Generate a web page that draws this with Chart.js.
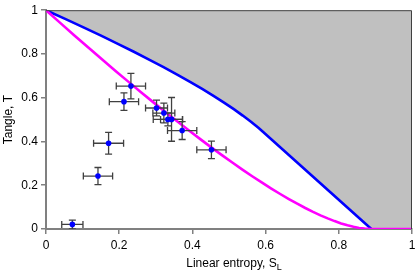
<!DOCTYPE html>
<html>
<head>
<meta charset="utf-8">
<script src="https://cdn.jsdelivr.net/npm/chart.js@4/dist/chart.umd.min.js"></script>
<style>
html,body{margin:0;padding:0;background:#fff;}
#wrap{width:416px;height:272px;position:relative;}
</style>
</head>
<body>
<div id="wrap"><canvas id="c" width="416" height="272"></canvas></div>
<script>
// Measured data points (linear entropy, tangle) with error bars
const sL        = [0.072, 0.142, 0.171, 0.213, 0.232, 0.302, 0.322, 0.333, 0.343, 0.372, 0.452];
const tangle    = [0.021, 0.242, 0.392, 0.582, 0.653, 0.553, 0.530, 0.501, 0.501, 0.450, 0.362];
const sLErr     = [0.029, 0.040, 0.041, 0.040, 0.040, 0.030, 0.030, 0.040, 0.030, 0.040, 0.040];
const tangleErr = [0.020, 0.039, 0.050, 0.040, 0.058, 0.036, 0.045, 0.030, 0.100, 0.041, 0.040];

// Upper boundary curve (blue)
const memsS = [0, 0.0523, 0.1024, 0.1504, 0.1963, 0.24, 0.2816, 0.3211, 0.3584, 0.3936, 0.4267, 0.4576, 0.4864, 0.5131, 0.5376, 0.56, 0.5803, 0.5926, 0.8889];
const memsT = [1, 0.9604, 0.9216, 0.8836, 0.8464, 0.81, 0.7744, 0.7396, 0.7056, 0.6724, 0.64, 0.6084, 0.5776, 0.5476, 0.5184, 0.49, 0.4624, 0.4444, 0];

// Lower curve (magenta)
const wernerS = [0, 0.0396, 0.0784, 0.1164, 0.1536, 0.19, 0.2256, 0.2604, 0.2944, 0.3276, 0.36, 0.3916, 0.4224, 0.4524, 0.4816, 0.51, 0.5376, 0.5644, 0.5904, 0.6156, 0.64, 0.6636, 0.6864, 0.7084, 0.7296, 0.75, 0.7696, 0.7884, 0.8064, 0.8236, 0.84, 0.8556, 0.8704, 0.8889, 1];
const wernerT = [1, 0.9409, 0.8836, 0.8281, 0.7744, 0.7225, 0.6724, 0.6241, 0.5776, 0.5329, 0.49, 0.4489, 0.4096, 0.3721, 0.3364, 0.3025, 0.2704, 0.2401, 0.2116, 0.1849, 0.16, 0.1369, 0.1156, 0.0961, 0.0784, 0.0625, 0.0484, 0.0361, 0.0256, 0.0169, 0.01, 0.0049, 0.0016, 0, 0];

const xTicks = [0, 0.2, 0.4, 0.6, 0.8, 1];
const yTicks = [0, 0.2, 0.4, 0.6, 0.8, 1];
const xTitle = 'Linear entropy, S';
const xTitleSub = 'L';
const yTitle = 'Tangle, T';

const pts = (xs, ys) => xs.map((x, i) => ({x: x, y: ys[i]}));
const fillPts = pts(memsS, memsT).concat([{x: 1, y: 0}]);

const FONT = '"Liberation Sans", Arial, sans-serif';

const extras = {
  id: 'extras',
  beforeDatasetDraw(chart, args) {
    if (args.index !== 0) return;
    const ctx = chart.ctx, xs = chart.scales.x, ys = chart.scales.y;
    const a = chart.chartArea;
    ctx.save();
    ctx.beginPath();
    ctx.rect(a.left, a.top, a.right - a.left, a.bottom - a.top);
    ctx.clip();
    ctx.strokeStyle = '#404040';
    ctx.lineWidth = 1.3;
    const cap = 3.5;
    sL.forEach((x, i) => {
      const y = tangle[i];
      const px = xs.getPixelForValue(x), py = ys.getPixelForValue(y);
      const x1 = xs.getPixelForValue(x - sLErr[i]), x2 = xs.getPixelForValue(x + sLErr[i]);
      const y1 = ys.getPixelForValue(y - tangleErr[i]), y2 = ys.getPixelForValue(y + tangleErr[i]);
      ctx.beginPath();
      ctx.moveTo(x1, py); ctx.lineTo(x2, py);
      ctx.moveTo(x1, py - cap); ctx.lineTo(x1, py + cap);
      ctx.moveTo(x2, py - cap); ctx.lineTo(x2, py + cap);
      ctx.moveTo(px, y1); ctx.lineTo(px, y2);
      ctx.moveTo(px - cap, y1); ctx.lineTo(px + cap, y1);
      ctx.moveTo(px - cap, y2); ctx.lineTo(px + cap, y2);
      ctx.stroke();
    });
    ctx.restore();
  },
  afterDraw(chart) {
    const ctx = chart.ctx, a = chart.chartArea;
    ctx.save();
    // top and right frame
    ctx.strokeStyle = '#404040';
    ctx.lineWidth = 1;
    ctx.beginPath();
    ctx.moveTo(a.left, a.top + 0.5);
    ctx.lineTo(a.right - 0.5, a.top + 0.5);
    ctx.lineTo(a.right - 0.5, a.bottom);
    ctx.stroke();
    // x title with subscript
    ctx.fillStyle = '#000';
    ctx.font = '12px ' + FONT;
    ctx.textBaseline = 'alphabetic';
    ctx.textAlign = 'left';
    const w1 = ctx.measureText(xTitle).width;
    ctx.font = '9px ' + FONT;
    const w2 = ctx.measureText(xTitleSub).width;
    const start = 234 - (w1 + w2) / 2;
    ctx.font = '12px ' + FONT;
    ctx.fillText(xTitle, start, 266.5);
    ctx.font = '9px ' + FONT;
    ctx.fillText(xTitleSub, start + w1, 269.5);
    // y title
    ctx.font = '12px ' + FONT;
    ctx.translate(12, (a.top + a.bottom) / 2);
    ctx.rotate(-Math.PI / 2);
    ctx.textAlign = 'center';
    ctx.fillText(yTitle, 0, 0);
    ctx.restore();
  }
};

new Chart(document.getElementById('c'), {
  type: 'line',
  data: {
    datasets: [
      {
        label: 'data',
        data: pts(sL, tangle),
        showLine: false,
        pointRadius: 2.8,
        pointBackgroundColor: '#0000ff',
        pointBorderWidth: 0,
        borderColor: '#0000ff'
      },
      {
        label: 'lower',
        data: pts(wernerS, wernerT),
        borderColor: '#ff00ff',
        borderWidth: 2.6,
        pointRadius: 0,
        fill: false,
        tension: 0
      },
      {
        label: 'upper',
        data: pts(memsS, memsT),
        borderColor: '#0000ff',
        borderWidth: 2.6,
        pointRadius: 0,
        fill: false,
        tension: 0
      },
      {
        label: 'region',
        data: fillPts,
        borderWidth: 0,
        borderColor: 'rgba(0,0,0,0)',
        backgroundColor: '#c0c0c0',
        pointRadius: 0,
        fill: 'end',
        tension: 0
      }
    ]
  },
  options: {
    responsive: false,
    animation: false,
    devicePixelRatio: 1,
    layout: {padding: {top: 9, right: 0, left: 0, bottom: 0}},
    plugins: {legend: {display: false}, tooltip: {enabled: false}, title: {display: false}},
    scales: {
      x: {
        type: 'linear', min: 0, max: 1,
        afterFit: s => { s.height = 43; s.paddingRight = 3; },
        afterBuildTicks: s => { s.ticks = xTicks.map(v => ({value: v})); },
        ticks: {autoSkip: false, maxRotation: 0, padding: 4, color: '#000', font: {family: FONT, size: 12},
          callback: v => String(v)},
        grid: {drawOnChartArea: false, drawTicks: true, tickLength: 5, color: '#808080', lineWidth: 1.5},
        border: {display: true, color: '#808080', width: 2}
      },
      y: {
        type: 'linear', min: 0, max: 1,
        afterFit: s => { s.width = 46; },
        afterBuildTicks: s => { s.ticks = yTicks.map(v => ({value: v})); },
        ticks: {autoSkip: false, padding: 3, color: '#000', font: {family: FONT, size: 12},
          callback: v => String(v)},
        grid: {drawOnChartArea: false, drawTicks: true, tickLength: 5, color: '#808080', lineWidth: 1.5},
        border: {display: true, color: '#808080', width: 2}
      }
    }
  },
  plugins: [extras]
});
</script>
</body>
</html>
